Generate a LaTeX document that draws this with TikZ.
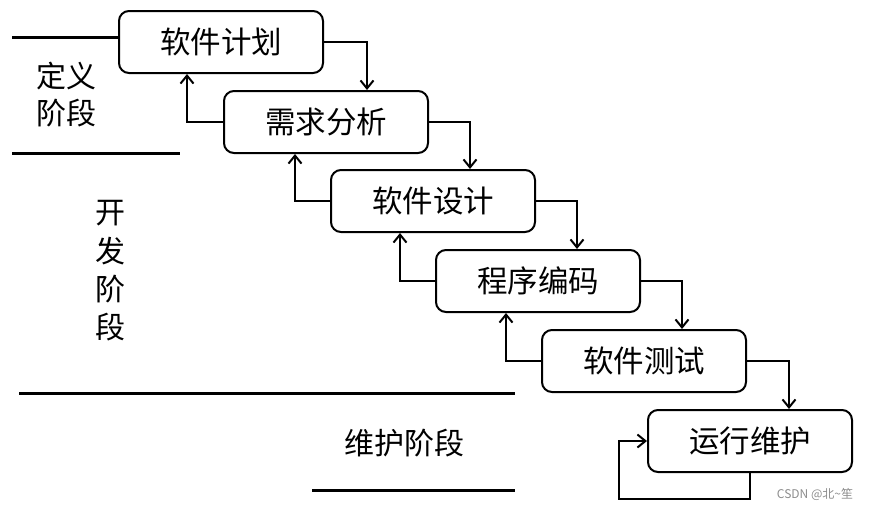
\documentclass[tikz,border=0pt]{standalone}
\usepackage{fontspec}
\newfontfamily\cjk{Noto Sans CJK SC}
\usetikzlibrary{arrows.meta,calc}
\tikzset{
  phasebox/.style={draw, line width=2pt, rounded corners=10pt, minimum width=204pt, minimum height=62pt, inner sep=0pt, font=\cjk\fontsize{30.5}{36}\selectfont},
  arr/.style={line width=2pt, -{Straight Barb[length=8pt,width=13pt,line width=2pt]}},
  phaseline/.style={line width=3pt},
  lbl/.style={inner sep=0pt, font=\cjk\fontsize{30}{36}\selectfont},
}
\begin{document}
\begin{tikzpicture}[x=1pt,y=-1pt]
\useasboundingbox (0,0) rectangle (872,509);
% boxes
\node[phasebox] (b1) at (221,42) {软件计划};
\node[phasebox] (b2) at (326,122) {需求分析};
\node[phasebox] (b3) at (433,201) {软件设计};
\node[phasebox] (b4) at (538,281) {程序编码};
\node[phasebox] (b5) at (644,361) {软件测试};
\node[phasebox] (b6) at (750,441) {运行维护};
% forward arrows
\draw[arr] (b1.east) -| ($(b2.north west)+(144,0)$);
\draw[arr] (b2.east) -| ($(b3.north west)+(140,0)$);
\draw[arr] (b3.east) -| ($(b4.north west)+(142,0)$);
\draw[arr] (b4.east) -| ($(b5.north west)+(141,0)$);
\draw[arr] (b5.east) -| ($(b6.north west)+(142,0)$);
% back arrows
\draw[arr] (b2.west) -| ($(b1.south west)+(69,0)$);
\draw[arr] (b3.west) -| ($(b2.south west)+(72,0)$);
\draw[arr] (b4.west) -| ($(b3.south west)+(70,0)$);
\draw[arr] (b5.west) -| ($(b4.south west)+(71,0)$);
% maintenance loop
\coordinate (lp) at (619,499);
\draw[arr] (b6.south) |- (lp) |- (b6.west);
% phase lines
\coordinate (t0) at (12,37);
\draw[phaseline] (t0) -- (b1.west |- t0);
\coordinate (d0) at (12,153);
\coordinate (d1) at (180,153);
\draw[phaseline] (d0) -- (d1);
\coordinate (k0) at (19,393);
\coordinate (k1) at (515,393);
\draw[phaseline] (k0) -- (k1);
\coordinate (m0) at (312,490);
\coordinate (m1) at (515,490);
\draw[phaseline] (m0) -- (m1);
% phase labels
\node[lbl] (dy1) at (66,76) {定义};
\node[lbl] (dy2) at (66,113) {阶段};
\node[lbl] (kf1) at (110,213) {开};
\node[lbl] (kf2) at (110,251) {发};
\node[lbl] (kf3) at (110,289) {阶};
\node[lbl] (kf4) at (110,327) {段};
\node[lbl] (wh) at (404,443) {维护阶段};
\node[inner sep=0pt, text=black!45, font=\cjk\fontsize{12}{14}\selectfont] (wm) at (815,494) {CSDN @北\textasciitilde 笙};
\end{tikzpicture}
\end{document}
